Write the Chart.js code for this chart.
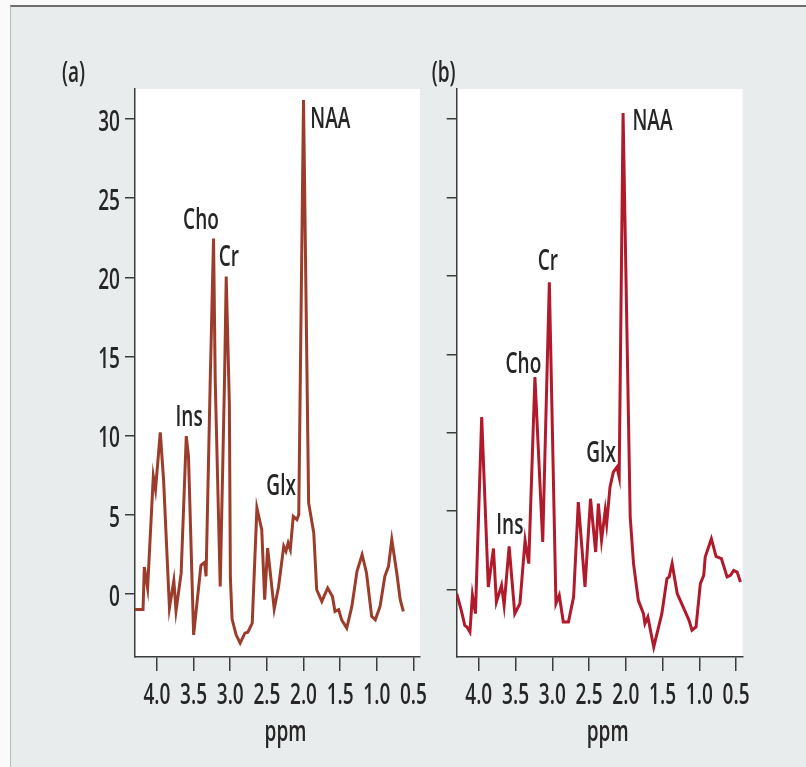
<!DOCTYPE html>
<html>
<head>
<meta charset="utf-8">
<script src="https://cdn.jsdelivr.net/npm/chart.js@4/dist/chart.umd.min.js"></script>
<style>
  html, body { margin: 0; padding: 0; background: #fafafa; }
  #frame { position: absolute; left: 10px; top: 5px; width: 796px; height: 762px; background: #e9ecec;
           border-top: 2px solid #6e6e6e; border-left: 1px solid #b9bcbc; box-sizing: border-box; }
  canvas { position: absolute; left: 0; top: 0; }
</style>
</head>
<body>
<div id="frame"></div>
<canvas id="chA" width="806" height="767"></canvas>
<canvas id="chB" width="806" height="767"></canvas>
<script>
// spettri MRS (a) e (b): valori letti a occhio dal grafico
const ppmA = [4.30, 4.19, 4.173, 4.128, 4.05, 4.02, 3.955, 3.91, 3.83, 3.77, 3.74, 3.67, 3.60, 3.57, 3.50, 3.45, 3.40, 3.35, 3.33,
  3.273, 3.228, 3.205, 3.137, 3.078, 3.055, 3.012, 2.998, 2.975, 2.92, 2.865, 2.80, 2.76, 2.70, 2.636, 2.57, 2.53, 2.49, 2.40, 2.34,
  2.27, 2.24, 2.21, 2.18, 2.14, 2.09, 2.065, 2.0, 1.93, 1.86, 1.82, 1.75, 1.67, 1.605, 1.57, 1.52, 1.48, 1.41, 1.34, 1.27, 1.20,
  1.14, 1.07, 1.02, 0.955, 0.89, 0.84, 0.795, 0.727, 0.68, 0.637];
const valA = [-1.0, -1.0, 1.69, 0.36, 7.42, 6.58, 10.2, 7.2, -0.9, 0.82, -1.08, 1.3, 9.96, 8.7, -2.6, -0.4, 1.8, 1.98, 1.1,
  13.5, 22.45, 13.5, 0.46, 13.5, 20.04, 12.0, 1.0, -1.6, -2.6, -3.12, -2.49, -2.43, -1.86, 5.42, 4.05, -0.38, 2.89, -0.97, 0.46,
  3.0, 2.68, 3.2, 2.78, 4.89, 4.68, 5.0, 31.2, 5.74, 3.84, 0.25, -0.49, 0.36, -0.17, -1.12, -1.01, -1.65, -2.17, -0.8, 1.41, 2.47,
  1.31, -1.43, -1.65, -0.8, 1.1, 1.73, 3.42, 1.31, -0.38, -1.12];

const ppmB = [4.30, 4.24, 4.19, 4.16, 4.12, 4.086, 4.045, 3.96, 3.87, 3.80, 3.76, 3.69, 3.655, 3.587, 3.51, 3.44, 3.37, 3.32,
  3.236, 3.13, 3.04, 2.95, 2.905, 2.85, 2.78, 2.71, 2.646, 2.555, 2.48, 2.41, 2.373, 2.33, 2.28, 2.26, 2.215, 2.17, 2.12, 2.09,
  2.037, 1.94, 1.895, 1.83, 1.76, 1.74, 1.70, 1.62, 1.51, 1.44, 1.41, 1.37, 1.30, 1.21, 1.14, 1.10, 1.045, 0.986, 0.94, 0.92,
  0.836, 0.773, 0.70, 0.622, 0.577, 0.532, 0.486, 0.44];
const valB = [-0.28, -1.3, -2.3, -2.4, -2.72, -0.38, -1.55, 11.0, 0.15, 2.6, -0.81, 0.26, -1.02, 2.74, -1.55, -0.91, 3.13, 1.64,
  13.54, 3.02, 19.6, -0.91, -0.38, -2.08, -2.08, -0.49, 5.57, 0.15, 5.78, 2.38, 5.47, 3.13, 5.04, 4.19, 6.52, 7.48, 7.8, 7.16,
  30.4, 4.61, 1.64, -0.7, -1.55, -2.19, -1.77, -3.68, -1.55, 0.68, 0.79, 1.64, -0.28, -1.23, -1.98, -2.61, -2.4, 0.36, 0.89, 2.06,
  3.23, 2.1, 1.96, 0.79, 0.89, 1.21, 1.1, 0.47];

const xTicks = [4.0, 3.5, 3.0, 2.5, 2.0, 1.5, 1.0, 0.5];
const yTicks = [0, 5, 10, 15, 20, 25, 30];

// etichette dei picchi (centro in ppm / linea di base del testo)
const picchiNomi = ['NAA', 'Cho', 'Cr', 'Ins', 'Glx'];
const picchiPpmA = [1.633, 3.399, 3.018, 3.562, 2.305];
const picchiValA = [29.41, 23.04, 20.72, 10.59, 6.27];
const picchiPpmB = [1.637, 3.393, 3.059, 3.577, 2.336];
const picchiValB = [29.32, 13.79, 20.39, 3.55, 8.12];

const FONT = '"Open Sans", "Noto Sans", sans-serif';
const SIZE = 28;
const SX = 0.68;          // il font originale è condensato
const INK = '#262626';
const AXIS = '#3c3c3c';

// testo stretto in orizzontale
const narrow = (ctx, txt, x, y, align) => {
  ctx.save();
  ctx.translate(x, y); ctx.scale(SX, 1);
  ctx.font = '600 ' + SIZE + 'px ' + FONT; ctx.fillStyle = INK; ctx.textAlign = align; ctx.textBaseline = 'alphabetic';
  ctx.fillText(txt, 0, 0);
  ctx.restore();
};

const areaBianca = {
  id: 'areaBianca',
  beforeDraw(chart) {
    const { ctx, chartArea: a } = chart;
    ctx.save(); ctx.fillStyle = '#ffffff'; ctx.fillRect(a.left, a.top, a.right - a.left, a.bottom - a.top); ctx.restore();
  }
};

const testi = {
  id: 'testi',
  afterDraw(chart, args, o) {
    const { ctx, chartArea: a, scales: { x, y } } = chart;
    x.ticks.forEach(t => narrow(ctx, t.label, x.getPixelForValue(t.value), a.bottom + 47, 'center'));
    if (o.showY) y.ticks.forEach(t => narrow(ctx, t.label, a.left - 15, y.getPixelForValue(t.value) + 12, 'right'));
    narrow(ctx, 'ppm', (a.left + a.right) / 2 + 8, a.bottom + 84, 'center');
    narrow(ctx, o.tag, a.left - (o.showY ? 73 : 25), a.top - 7, 'left');
    picchiNomi.forEach((n, i) => narrow(ctx, n, x.getPixelForValue(o.ppm[i]), y.getPixelForValue(o.val[i]), 'center'));
  }
};

const makeChart = (id, ppm, val, color, yMin, yMax, yWidth, padRight, extra) => new Chart(document.getElementById(id), {
  type: 'line',
  data: { datasets: [{ data: ppm.map((p, i) => ({ x: p, y: val[i] })), borderColor: color, borderWidth: 3, pointRadius: 0, tension: 0 }] },
  options: {
    responsive: false, animation: false, devicePixelRatio: 1,
    layout: { padding: { left: 0, right: padRight, top: 89, bottom: 0 } },
    plugins: { legend: { display: false }, tooltip: { enabled: false }, testi: extra },
    scales: {
      x: {
        type: 'linear', reverse: true, min: 0.41, max: 4.3,
        afterBuildTicks: s => { s.ticks = xTicks.map(v => ({ value: v })); },
        afterFit: s => { s.height = 110; },
        border: { color: AXIS, width: 1.5 },
        grid: { drawOnChartArea: false, drawTicks: true, tickLength: 14, color: AXIS, lineWidth: 1.5 },
        ticks: { color: 'rgba(0,0,0,0)', font: { size: 16 }, maxRotation: 0, callback: v => v.toFixed(1) }
      },
      y: {
        min: yMin, max: yMax,
        afterBuildTicks: s => { s.ticks = yTicks.map(v => ({ value: v })); },
        afterFit: s => { s.width = yWidth; },
        border: { color: AXIS, width: 1.5 },
        grid: { drawOnChartArea: false, drawTicks: true, tickLength: 10, color: AXIS, lineWidth: 1.5 },
        ticks: { color: 'rgba(0,0,0,0)', font: { size: 16 }, callback: v => String(v) }
      }
    }
  },
  plugins: [areaBianca, testi]
});

makeChart('chA', ppmA, valA, '#9c3d2c', -4.0, 31.9, 135, 386, { showY: true, tag: '(a)', ppm: picchiPpmA, val: picchiValA });
makeChart('chB', ppmB, valB, '#b01a2b', -4.32, 31.93, 456.7, 63.3, { showY: false, tag: '(b)', ppm: picchiPpmB, val: picchiValB });
</script>
</body>
</html>
